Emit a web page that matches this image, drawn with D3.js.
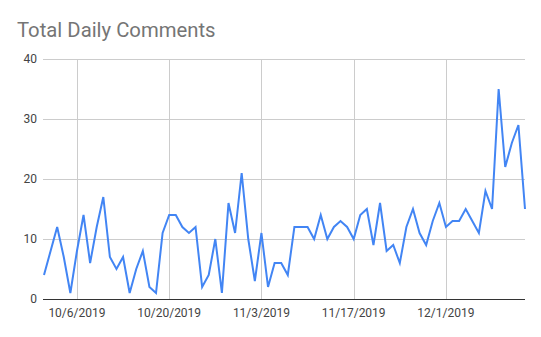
<!DOCTYPE html>
<html>
<head>
<meta charset="utf-8">
<script src="https://cdn.jsdelivr.net/npm/d3@7"></script>
<style>
  body { margin: 0; background: #fff; }
  text { font-family: Roboto, Arial, sans-serif; }
</style>
</head>
<body>
<div id="chart"></div>
<script>
// Chart data
const startDate = "2019-10-01";
const comments = [
  4, 8, 12, 7, 1, 8, 14, 6, 12, 17,
  7, 5, 7, 1, 5, 8, 2, 1, 11, 14,
  14, 12, 11, 12, 2, 4, 10, 1, 16, 11,
  21, 10, 3, 11, 2, 6, 6, 4, 12, 12,
  12, 10, 14, 10, 12, 13, 12, 10, 14, 15,
  9, 16, 8, 9, 6, 12, 15, 11, 9, 13,
  16, 12, 13, 13, 15, 13, 11, 18, 15, 35,
  22, 26, 29, 15
];
const xTickDates = ["2019-10-06", "2019-10-20", "2019-11-03", "2019-11-17", "2019-12-01"];
const yTicks = [0, 10, 20, 30, 40];
const titleText = "Total Daily Comments";

const W = 541, H = 337;
const MARGIN = {LEFT: 43, RIGHT: 16, TOP: 59, BOTTOM: 38};

const parse = d3.timeParse("%Y-%m-%d");
const t0 = parse(startDate);
const data = comments.map((v, i) => ({date: d3.timeDay.offset(t0, i), value: v}));

const svg = d3.select("#chart").append("svg")
  .attr("width", W)
  .attr("height", H);

const x = d3.scaleTime()
  .domain(d3.extent(data, d => d.date))
  .range([MARGIN.LEFT + 1, W - MARGIN.RIGHT]);

const y = d3.scaleLinear()
  .domain([0, 40])
  .range([H - MARGIN.BOTTOM, MARGIN.TOP]);

// title
svg.append("text")
  .attr("x", 17)
  .attr("y", 37)
  .attr("fill", "#757575")
  .style("font-size", "20.3px")
  .text(titleText);

// horizontal grid
svg.append("g")
  .selectAll("line")
  .data(yTicks.filter(d => d > 0))
  .enter().append("line")
  .attr("x1", MARGIN.LEFT)
  .attr("x2", W - MARGIN.RIGHT)
  .attr("y1", d => Math.round(y(d)) + 0.5)
  .attr("y2", d => Math.round(y(d)) + 0.5)
  .attr("stroke", "#cccccc");

// vertical grid
svg.append("g")
  .selectAll("line")
  .data(xTickDates.map(parse))
  .enter().append("line")
  .attr("x1", d => Math.round(x(d)) + 0.5)
  .attr("x2", d => Math.round(x(d)) + 0.5)
  .attr("y1", y(40))
  .attr("y2", y(0))
  .attr("stroke", "#cccccc");

// y labels
svg.append("g")
  .selectAll("text")
  .data(yTicks)
  .enter().append("text")
  .attr("x", 37)
  .attr("y", d => y(d) + 4)
  .attr("text-anchor", "end")
  .attr("fill", "#444")
  .style("font-size", "12px")
  .text(d => d);

// x labels
const fmt = d3.timeFormat("%-m/%-d/%Y");
svg.append("g")
  .selectAll("text")
  .data(xTickDates.map(parse))
  .enter().append("text")
  .attr("x", d => x(d))
  .attr("y", 317)
  .attr("text-anchor", "middle")
  .attr("fill", "#444")
  .style("font-size", "12px")
  .text(d => fmt(d));

// line
const line = d3.line()
  .x(d => x(d.date))
  .y(d => y(d.value));

svg.append("path")
  .datum(data)
  .attr("fill", "none")
  .attr("stroke", "#4285f4")
  .attr("stroke-width", 2)
  .attr("stroke-linejoin", "miter")
  .attr("d", line);

// baseline
svg.append("line")
  .attr("x1", MARGIN.LEFT)
  .attr("x2", W - MARGIN.RIGHT)
  .attr("y1", Math.round(y(0)) + 0.5)
  .attr("y2", Math.round(y(0)) + 0.5)
  .attr("stroke", "#333333");
</script>
</body>
</html>
